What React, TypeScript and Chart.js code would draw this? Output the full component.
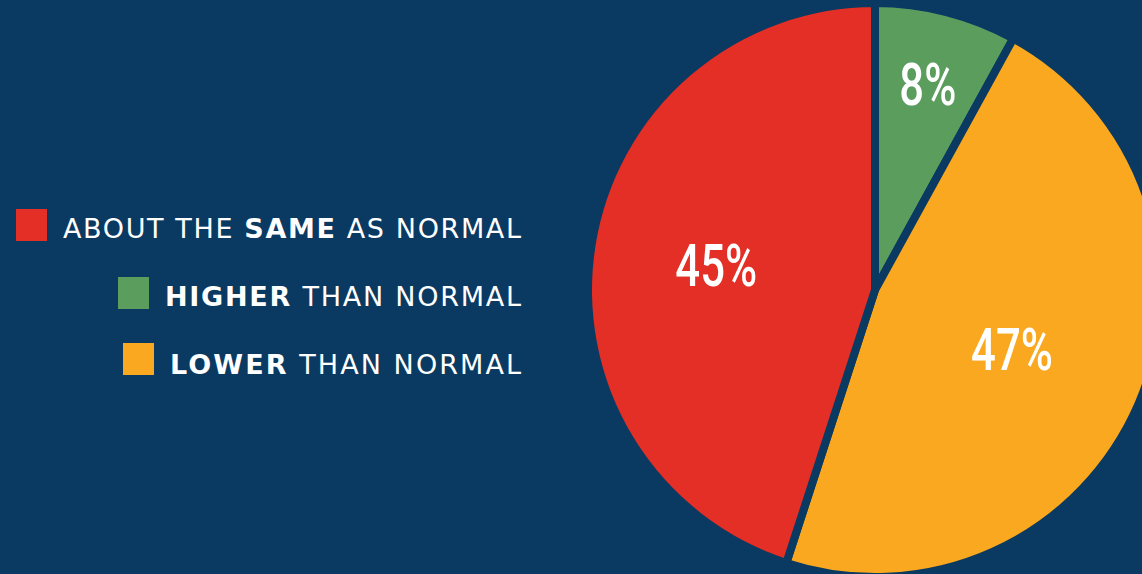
import React, { useEffect, useLayoutEffect, useRef } from "react";
import { Chart, registerables } from "chart.js";

Chart.register(...registerables);

// ---- data ----
const categories = ["HIGHER THAN NORMAL", "LOWER THAN NORMAL", "ABOUT THE SAME AS NORMAL"];
const values = [8, 47, 45];
const valueLabels = ["8%", "47%", "45%"];
const sliceColors = ["#5b9d5d", "#f9a81f", "#e32f25"];

// legend rows (in display order): index into categories
const legendOrder = [2, 0, 1];
const legendPre = ["ABOUT THE ", "", ""];
const legendBold = ["SAME", "HIGHER", "LOWER"];
const legendPost = [" AS NORMAL", " THAN NORMAL", " THAN NORMAL"];

// ---- styling ----
const BG = "#0a3961";
const labelRadius = [0.74, 0.52, 0.56];
const legendTextTop = [215, 283, 351];
const legendTextWidth = [458, 356, 351];
const legendSquareLeft = [16, 118, 123];
const legendSquareTop = [209, 277, 343];

const labelPlugin = {
  id: "sliceLabels",
  afterDatasetsDraw(chart: any) {
    const meta = chart.getDatasetMeta(0);
    const ctx = chart.ctx as CanvasRenderingContext2D;
    meta.data.forEach((arc: any, i: number) => {
      const p = arc.getProps(["x", "y", "startAngle", "endAngle", "outerRadius"], true);
      const mid = (p.startAngle + p.endAngle) / 2;
      const r = p.outerRadius * labelRadius[i];
      const px = p.x + Math.cos(mid) * r;
      const py = p.y + Math.sin(mid) * r;
      ctx.save();
      ctx.translate(px, py);
      ctx.scale(0.74, 1);
      ctx.font = "500 59px Roboto";
      ctx.fillStyle = "#ffffff";
      ctx.textAlign = "center";
      ctx.textBaseline = "alphabetic";
      ctx.fillText(valueLabels[i], 0, 21);
      ctx.restore();
    });
  },
};

export default function App() {
  const canvasRef = useRef<HTMLCanvasElement | null>(null);
  const textRefs = useRef<(HTMLSpanElement | null)[]>([]);

  useEffect(() => {
    const canvas = canvasRef.current;
    if (!canvas) return;
    const chart = new Chart(canvas, {
      type: "pie",
      data: {
        labels: categories,
        datasets: [
          {
            data: values,
            backgroundColor: sliceColors,
            borderColor: BG,
            borderWidth: 8,
            hoverOffset: 0,
          },
        ],
      },
      options: {
        animation: false,
        responsive: false,
        devicePixelRatio: 1,
        events: [],
        radius: 287,
        layout: { padding: 0 },
        plugins: {
          legend: { display: false },
          tooltip: { enabled: false },
        },
      },
      plugins: [labelPlugin],
    });
    return () => chart.destroy();
  }, []);

  useLayoutEffect(() => {
    const fit = () => {
      textRefs.current.forEach((el, i) => {
        if (!el) return;
        el.style.letterSpacing = "0px";
        el.style.marginRight = "0px";
        const w = el.getBoundingClientRect().width;
        const n = (el.textContent || "").length;
        const ls = (legendTextWidth[i] - w) / Math.max(n - 1, 1);
        el.style.letterSpacing = ls + "px";
        el.style.marginRight = -ls + "px";
      });
    };
    fit();
    if ((document as any).fonts && (document as any).fonts.ready) {
      (document as any).fonts.ready.then(fit);
    }
  }, []);

  return (
    <div
      style={{
        position: "fixed",
        left: 0,
        top: 0,
        width: 1142,
        height: 574,
        overflow: "hidden",
        background: BG,
      }}
    >
      <canvas
        ref={canvasRef}
        width={600}
        height={600}
        style={{ position: "absolute", left: 575, top: -10, width: 600, height: 600 }}
      />
      {legendOrder.map((ci, row) => (
        <React.Fragment key={row}>
          <div
            style={{
              position: "absolute",
              left: legendSquareLeft[row],
              top: legendSquareTop[row],
              width: 31,
              height: 32,
              background: sliceColors[ci],
            }}
          />
          <div
            style={{
              position: "absolute",
              right: 1142 - 521,
              top: legendTextTop[row],
              fontFamily: "'DejaVu Sans', sans-serif",
              fontSize: 27,
              lineHeight: "27px",
              color: "#ffffff",
              whiteSpace: "nowrap",
              textAlign: "right",
            }}
          >
            <span
              ref={(el) => {
                textRefs.current[row] = el;
              }}
              style={{ display: "inline-block", whiteSpace: "pre" }}
            >
              {legendPre[row]}
              <b style={{ fontWeight: 700 }}>{legendBold[row]}</b>
              {legendPost[row]}
            </span>
          </div>
        </React.Fragment>
      ))}
    </div>
  );
}
